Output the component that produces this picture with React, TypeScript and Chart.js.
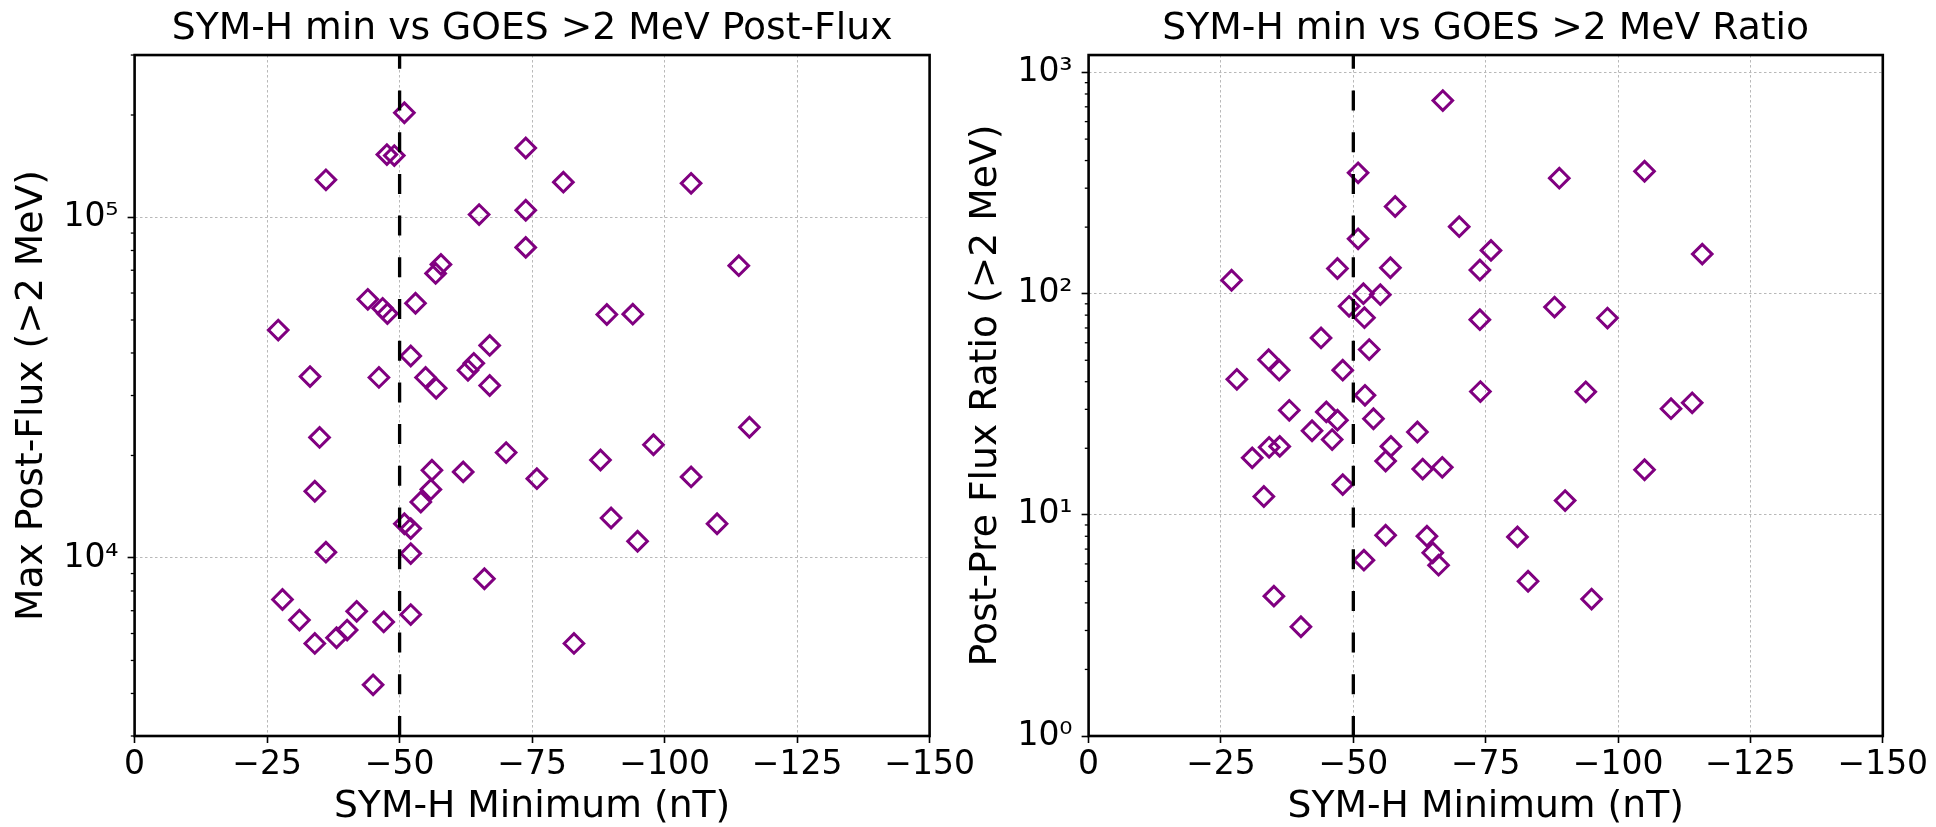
import React, { useEffect, useRef } from 'react';
import { Chart, registerables } from 'chart.js';

Chart.register(...registerables);
Chart.defaults.font.family = "'DejaVu Sans', sans-serif";
Chart.defaults.color = '#000';

// ---------- data ----------
const fluxSymH = [
  -50.9, -47.6, -49.0, -73.8, -36.1, -80.9, -105.0, -65.0, -73.8, -73.8,
  -114.0, -57.8, -56.8, -44.0, -53.0, -46.8, -47.7, -89.1, -94.0, -27.1,
  -67.0, -52.1, -33.1, -46.1, -54.9, -56.9, -62.9, -64.0, -67.0, -116.0,
  -34.9, -97.9, -70.1, -87.9, -56.1, -62.0, -75.9, -105.0, -55.9, -34.0,
  -54.0, -89.9, -50.9, -52.1, -109.9, -94.9, -36.1, -52.1, -66.0, -27.9,
  -41.9, -31.1, -47.0, -52.1, -40.1, -38.1, -34.0, -82.9, -45.0,
];
const fluxValues = [
  203000, 153000, 152000, 160000, 129000, 127000, 126000, 102000, 105000, 81700,
  72200, 72800, 68500, 57500, 56000, 54100, 52200, 51900, 52000, 46700,
  42100, 39200, 34100, 33900, 33900, 31500, 35600, 37300, 32100, 24200,
  22600, 21500, 20400, 19400, 18100, 17900, 17100, 17300, 15900, 15700,
  14600, 13100, 12600, 12200, 12600, 11200, 10400, 10300, 8690, 7550,
  6970, 6570, 6490, 6820, 6140, 5830, 5610, 5610, 4240,
];

const ratioSymH = [
  -66.9, -50.9, -88.9, -105.0, -57.9, -70.0, -50.9, -76.0, -115.9, -47.0,
  -57.0, -73.9, -27.0, -51.9, -55.1, -49.2, -52.1, -88.0, -73.9, -98.0,
  -43.9, -53.0, -34.0, -36.0, -48.0, -28.0, -52.2, -74.0, -93.9, -110.0,
  -114.0, -37.9, -44.9, -47.0, -53.8, -42.2, -62.1, -46.0, -34.1, -36.1,
  -57.1, -30.9, -56.1, -63.1, -66.8, -105.0, -48.0, -33.1, -90.0, -56.1,
  -63.9, -81.0, -65.0, -66.1, -52.0, -83.0, -35.0, -95.0, -40.1,
];
const ratioValues = [
  747, 352, 333, 358, 248, 201, 177, 157, 151, 130,
  131, 128, 115, 100, 99, 87.7, 77.9, 87, 76.3, 77.6,
  63.1, 55.9, 50.3, 45.1, 45.1, 41.0, 34.7, 36.1, 36.0, 30.2,
  32.1, 29.7, 29.2, 26.8, 27.2, 24.0, 23.7, 21.9, 20.2, 20.4,
  20.4, 18.1, 17.5, 16.1, 16.4, 16.0, 13.7, 12.1, 11.6, 8.09,
  8.01, 7.95, 6.74, 5.92, 6.24, 5.01, 4.29, 4.16, 3.12,
];

const xTickValues = [0, -25, -50, -75, -100, -125, -150];
const fluxDecades = [1e4, 1e5];
const ratioDecades = [1, 10, 100, 1000];
const fluxRange = [3000, 300000];
const ratioRange = [1, 1200];
const symHThreshold = -50;

const leftTitle = 'SYM-H min vs GOES >2 MeV Post-Flux';
const rightTitle = 'SYM-H min vs GOES >2 MeV Ratio';
const xTitle = 'SYM-H Minimum (nT)';
const leftYTitle = 'Max Post-Flux (>2 MeV)';
const rightYTitle = 'Post-Pre Flux Ratio (>2 MeV)';

// ---------- helpers ----------
const SUP: Record<string, string> = { '0': '⁰', '1': '¹', '2': '²', '3': '³', '4': '⁴', '5': '⁵', '6': '⁶' };
const powLabel = (v: number) => {
  const e = Math.round(Math.log10(v));
  return '10' + String(e).split('').map((c) => SUP[c] || c).join('');
};
const xLabel = (v: number) => (v === 0 ? '0' : '\u2212' + Math.abs(v));

const PURPLE = '#800080';
const TICK_FONT = 33;
const LABEL_FONT = 37.7;

const decorPlugin = {
  id: 'decor',
  afterDatasetsDraw(chart: any, _args: any, opts: any) {
    const { ctx, chartArea: a, scales } = chart;
    const xs = scales.x;
    const ys = scales.y;
    // dashed threshold line (drawn bottom -> top)
    const px = xs.getPixelForValue(opts.threshold);
    ctx.save();
    ctx.strokeStyle = '#000';
    ctx.lineWidth = 3.3;
    ctx.setLineDash([20, 21.7]);
    ctx.beginPath();
    ctx.moveTo(px, a.bottom);
    ctx.lineTo(px, a.top);
    ctx.stroke();
    ctx.restore();
    // minor ticks on log axis
    const [lo, hi] = opts.range;
    ctx.save();
    ctx.strokeStyle = '#000';
    ctx.lineWidth = 1.3;
    for (let d = Math.floor(Math.log10(lo)); d <= Math.ceil(Math.log10(hi)); d++) {
      for (let m = 2; m <= 9; m++) {
        const v = m * Math.pow(10, d);
        if (v < lo || v > hi) continue;
        const py = ys.getPixelForValue(v);
        ctx.beginPath();
        ctx.moveTo(a.left - 3.8, py);
        ctx.lineTo(a.left, py);
        ctx.stroke();
      }
    }
    ctx.restore();
    // frame (all four spines)
    ctx.save();
    ctx.strokeStyle = '#000';
    ctx.lineWidth = 2.6;
    ctx.strokeRect(a.left, a.top, a.right - a.left, a.bottom - a.top);
    ctx.restore();
  },
};

function buildConfig(p: {
  xs: number[];
  ys: number[];
  decades: number[];
  range: number[];
  title: string;
  yTitle: string;
  padRight: number;
}) {
  const points = p.xs.map((x, i) => ({ x, y: p.ys[i] }));
  return {
    type: 'scatter',
    data: {
      datasets: [
        {
          data: points,
          pointStyle: 'rectRot',
          pointRadius: 9.8,
          pointHoverRadius: 9.8,
          pointBorderWidth: 3,
          borderColor: PURPLE,
          backgroundColor: 'rgba(0,0,0,0)',
          pointBackgroundColor: 'rgba(0,0,0,0)',
          pointBorderColor: PURPLE,
          showLine: false,
        },
      ],
    },
    options: {
      animation: false,
      responsive: false,
      maintainAspectRatio: false,
      events: [],
      layout: { padding: { left: 0, right: p.padRight, top: 0, bottom: 0 } },
      plugins: {
        legend: { display: false },
        tooltip: { enabled: false },
        title: {
          display: true,
          text: p.title,
          fullSize: false,
          color: '#000',
          font: { size: LABEL_FONT, weight: 'normal' },
          padding: { top: 6.4, bottom: 3.4 },
        },
        decor: { threshold: symHThreshold, range: p.range },
      },
      scales: {
        x: {
          type: 'linear',
          min: -150,
          max: 0,
          reverse: true,
          afterBuildTicks: (s: any) => {
            s.ticks = xTickValues.map((v) => ({ value: v }));
          },
          afterFit: (s: any) => {
            s.height = 94;
            s.paddingLeft = 0;
            s.paddingRight = 0;
          },
          ticks: {
            autoSkip: false,
            maxRotation: 0,
            minRotation: 0,
            padding: 2.5,
            color: '#000',
            font: { size: TICK_FONT },
            callback: (v: any) => xLabel(Number(v)),
          },
          grid: {
            color: '#b8b8b8',
            lineWidth: 1,
            drawTicks: true,
            tickLength: 7,
            tickColor: '#000',
            tickWidth: 1.6,
          },
          border: { display: false, dash: [2.5, 2.5] },
          title: {
            display: true,
            text: xTitle,
            color: '#000',
            font: { size: LABEL_FONT },
            padding: { top: 0, bottom: 0 },
          },
        },
        y: {
          type: 'logarithmic',
          min: p.range[0],
          max: p.range[1],
          afterBuildTicks: (s: any) => {
            s.ticks = p.decades.map((v) => ({ value: v, major: true }));
          },
          afterFit: (s: any) => {
            s.width = 134.6;
            s.paddingTop = 0;
            s.paddingBottom = 0;
          },
          ticks: {
            autoSkip: false,
            padding: 9,
            color: '#000',
            font: { size: TICK_FONT },
            callback: (v: any) => powLabel(Number(v)),
          },
          grid: {
            color: '#b8b8b8',
            lineWidth: 1,
            drawTicks: true,
            tickLength: 7,
            tickColor: '#000',
            tickWidth: 1.6,
          },
          border: { display: false, dash: [2.5, 2.5] },
          title: {
            display: true,
            text: p.yTitle,
            color: '#000',
            font: { size: LABEL_FONT },
            padding: { top: 10, bottom: 0 },
          },
        },
      },
    },
    plugins: [decorPlugin],
  } as any;
}

export default function App() {
  const leftRef = useRef<HTMLCanvasElement>(null);
  const rightRef = useRef<HTMLCanvasElement>(null);

  useEffect(() => {
    const c1 = new Chart(
      leftRef.current as HTMLCanvasElement,
      buildConfig({
        xs: fluxSymH,
        ys: fluxValues,
        decades: fluxDecades,
        range: fluxRange,
        title: leftTitle,
        yTitle: leftYTitle,
        padRight: 60.4,
      })
    );
    const c2 = new Chart(
      rightRef.current as HTMLCanvasElement,
      buildConfig({
        xs: ratioSymH,
        ys: ratioValues,
        decades: ratioDecades,
        range: ratioRange,
        title: rightTitle,
        yTitle: rightYTitle,
        padRight: 53.2,
      })
    );
    return () => {
      c1.destroy();
      c2.destroy();
    };
  }, []);

  return (
    <div
      style={{
        position: 'fixed',
        left: 0,
        top: 0,
        width: 1936,
        height: 827,
        overflow: 'hidden',
        background: '#fff',
      }}
    >
      <canvas
        ref={leftRef}
        width={990}
        height={830}
        style={{ position: 'absolute', left: 0, top: 0, width: 990, height: 830 }}
      />
      <canvas
        ref={rightRef}
        width={982}
        height={830}
        style={{ position: 'absolute', left: 954, top: 0, width: 982, height: 830 }}
      />
    </div>
  );
}
